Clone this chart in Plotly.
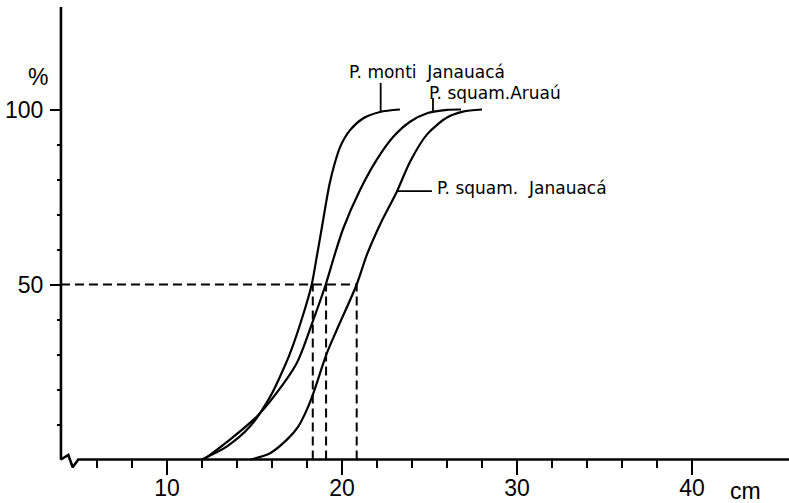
import plotly.graph_objects as go

# ---- data ----
monti_x = [11.98, 13.41, 14.74, 15.89, 16.46, 17.03, 17.85, 18.27, 18.56, 18.84, 19.06, 19.28, 19.55, 19.9, 20.46, 21.22, 22.17, 23.31]
monti_y = [0, 3.7, 9.4, 17.9, 23.7, 30.3, 42.5, 50, 58, 66, 72.5, 78.5, 84, 89.4, 94.1, 97.5, 99.3, 100]

aruau_x = [12.1, 13.6, 15.14, 15.89, 17.41, 18.36, 19.07, 19.55, 20.07, 21.03, 21.98, 22.93, 23.89, 24.9, 26.0, 26.8]
aruau_y = [0, 5.7, 12.3, 16.6, 27.5, 39.9, 50, 58, 66, 77, 85.6, 92.2, 96.5, 99, 99.9, 100]

janau_x = [14.8, 15.89, 16.84, 17.5, 17.98, 18.36, 19.13, 19.7, 20.84, 21.43, 22.17, 23.14, 23.89, 24.86, 26.0, 26.91, 28.0]
janau_y = [0, 1.8, 5.6, 9.4, 14.1, 18.9, 30.3, 37, 50, 58.6, 67.1, 76.6, 85.1, 92.9, 97.7, 99.4, 100]

medians = [18.33, 19.09, 20.84]
median_level = 50

x_major = [10, 20, 30, 40]
x_minor = [6, 8, 12, 14, 16, 18, 22, 24, 26, 28, 32, 34, 36, 38]
y_major = [50, 100]
y_minor = [10, 20, 30, 40, 60, 70, 80, 90]

labels = ["P.\u00a0monti\u00a0\u00a0Janauacá", "P.\u00a0squam.Aruaú", "P.\u00a0squam.\u00a0\u00a0Janauacá"]

# ---- geometry ----
X_RANGE = [0.457, 45.543]
Y_RANGE = [-12.43, 131.29]
X_AXIS_POS = 3.94
Y_TOP = 129.3

fig = go.Figure()
curve = dict(color="black", width=2.2, shape="spline", smoothing=0.8)
for xs, ys in [(monti_x, monti_y), (aruau_x, aruau_y), (janau_x, janau_y)]:
    fig.add_trace(go.Scatter(x=xs, y=ys, mode="lines", line=curve,
                             hoverinfo="skip", showlegend=False))

dash = dict(color="black", width=2, dash="9px,5px")
fig.add_trace(go.Scatter(x=[X_AXIS_POS, max(medians)], y=[median_level, median_level],
                         mode="lines", line=dash, hoverinfo="skip", showlegend=False))
for m in medians:
    fig.add_trace(go.Scatter(x=[m, m], y=[0, median_level], mode="lines", line=dash,
                             hoverinfo="skip", showlegend=False))

# axis lines with break symbol
fig.add_trace(go.Scatter(
    x=[X_AXIS_POS, X_AXIS_POS, 4.36, 4.61, 4.93, X_RANGE[1]],
    y=[Y_TOP, 0, 1.3, -2.2, 0, 0],
    mode="lines", line=dict(color="black", width=2.6),
    hoverinfo="skip", showlegend=False))

# leader lines for labels
leader = dict(color="black", width=1.8)
fig.add_trace(go.Scatter(x=[22.21, 22.21], y=[107.6, 99.4], mode="lines", line=leader,
                         hoverinfo="skip", showlegend=False))
fig.add_trace(go.Scatter(x=[25.2, 25.2], y=[103.3, 99.4], mode="lines", line=leader,
                         hoverinfo="skip", showlegend=False))
fig.add_trace(go.Scatter(x=[23.14, 25.14], y=[76.7, 76.7], mode="lines", line=leader,
                         hoverinfo="skip", showlegend=False))

lab_font = dict(family="DejaVu Sans", size=17, color="black")
ann = [
    dict(x=20.29, y=110.7, text=labels[0]),
    dict(x=24.86, y=104.7, text=labels[1]),
    dict(x=25.31, y=77.6, text=labels[2]),
]
for a in ann:
    fig.add_annotation(x=a["x"], y=a["y"], text=a["text"], showarrow=False,
                       xanchor="left", yanchor="middle", font=lab_font)

tick_font = dict(family="Liberation Sans", size=23, color="black")
fig.add_annotation(x=2.63, y=109.4, text="%", showarrow=False, font=tick_font,
                   xanchor="center", yanchor="middle")
fig.add_annotation(x=43.03, y=-8.9, text="cm", showarrow=False, font=tick_font,
                   xanchor="center", yanchor="middle")

xpos = (0 - Y_RANGE[0]) / (Y_RANGE[1] - Y_RANGE[0])
ypos = (X_AXIS_POS - X_RANGE[0]) / (X_RANGE[1] - X_RANGE[0])

fig.update_layout(
    width=789, height=503,
    margin=dict(l=0, r=0, t=0, b=0),
    paper_bgcolor="white", plot_bgcolor="white",
    template="none",
    font=dict(family="Liberation Sans", color="black"),
    xaxis=dict(range=X_RANGE, anchor="free", position=xpos, showline=False,
               showgrid=False, zeroline=False, automargin=False,
               tickmode="array", tickvals=x_major, ticktext=[str(v) for v in x_major],
               ticks="outside", ticklen=15, tickwidth=2, tickcolor="black",
               ticklabelstandoff=-7,
               tickfont=tick_font,
               minor=dict(tickmode="array", tickvals=x_minor, ticks="outside",
                          ticklen=8, tickwidth=2, tickcolor="black", showgrid=False)),
    yaxis=dict(range=Y_RANGE, anchor="free", position=ypos, showline=False,
               showgrid=False, zeroline=False, automargin=False,
               tickmode="array", tickvals=y_major, ticktext=[str(v) for v in y_major],
               ticks="outside", ticklen=11, tickwidth=2, tickcolor="black",
               ticklabelstandoff=2,
               tickfont=tick_font,
               minor=dict(tickmode="array", tickvals=y_minor, ticks="outside",
                          ticklen=4, tickwidth=2, tickcolor="black", showgrid=False)),
)

fig.write_html("out.html")
